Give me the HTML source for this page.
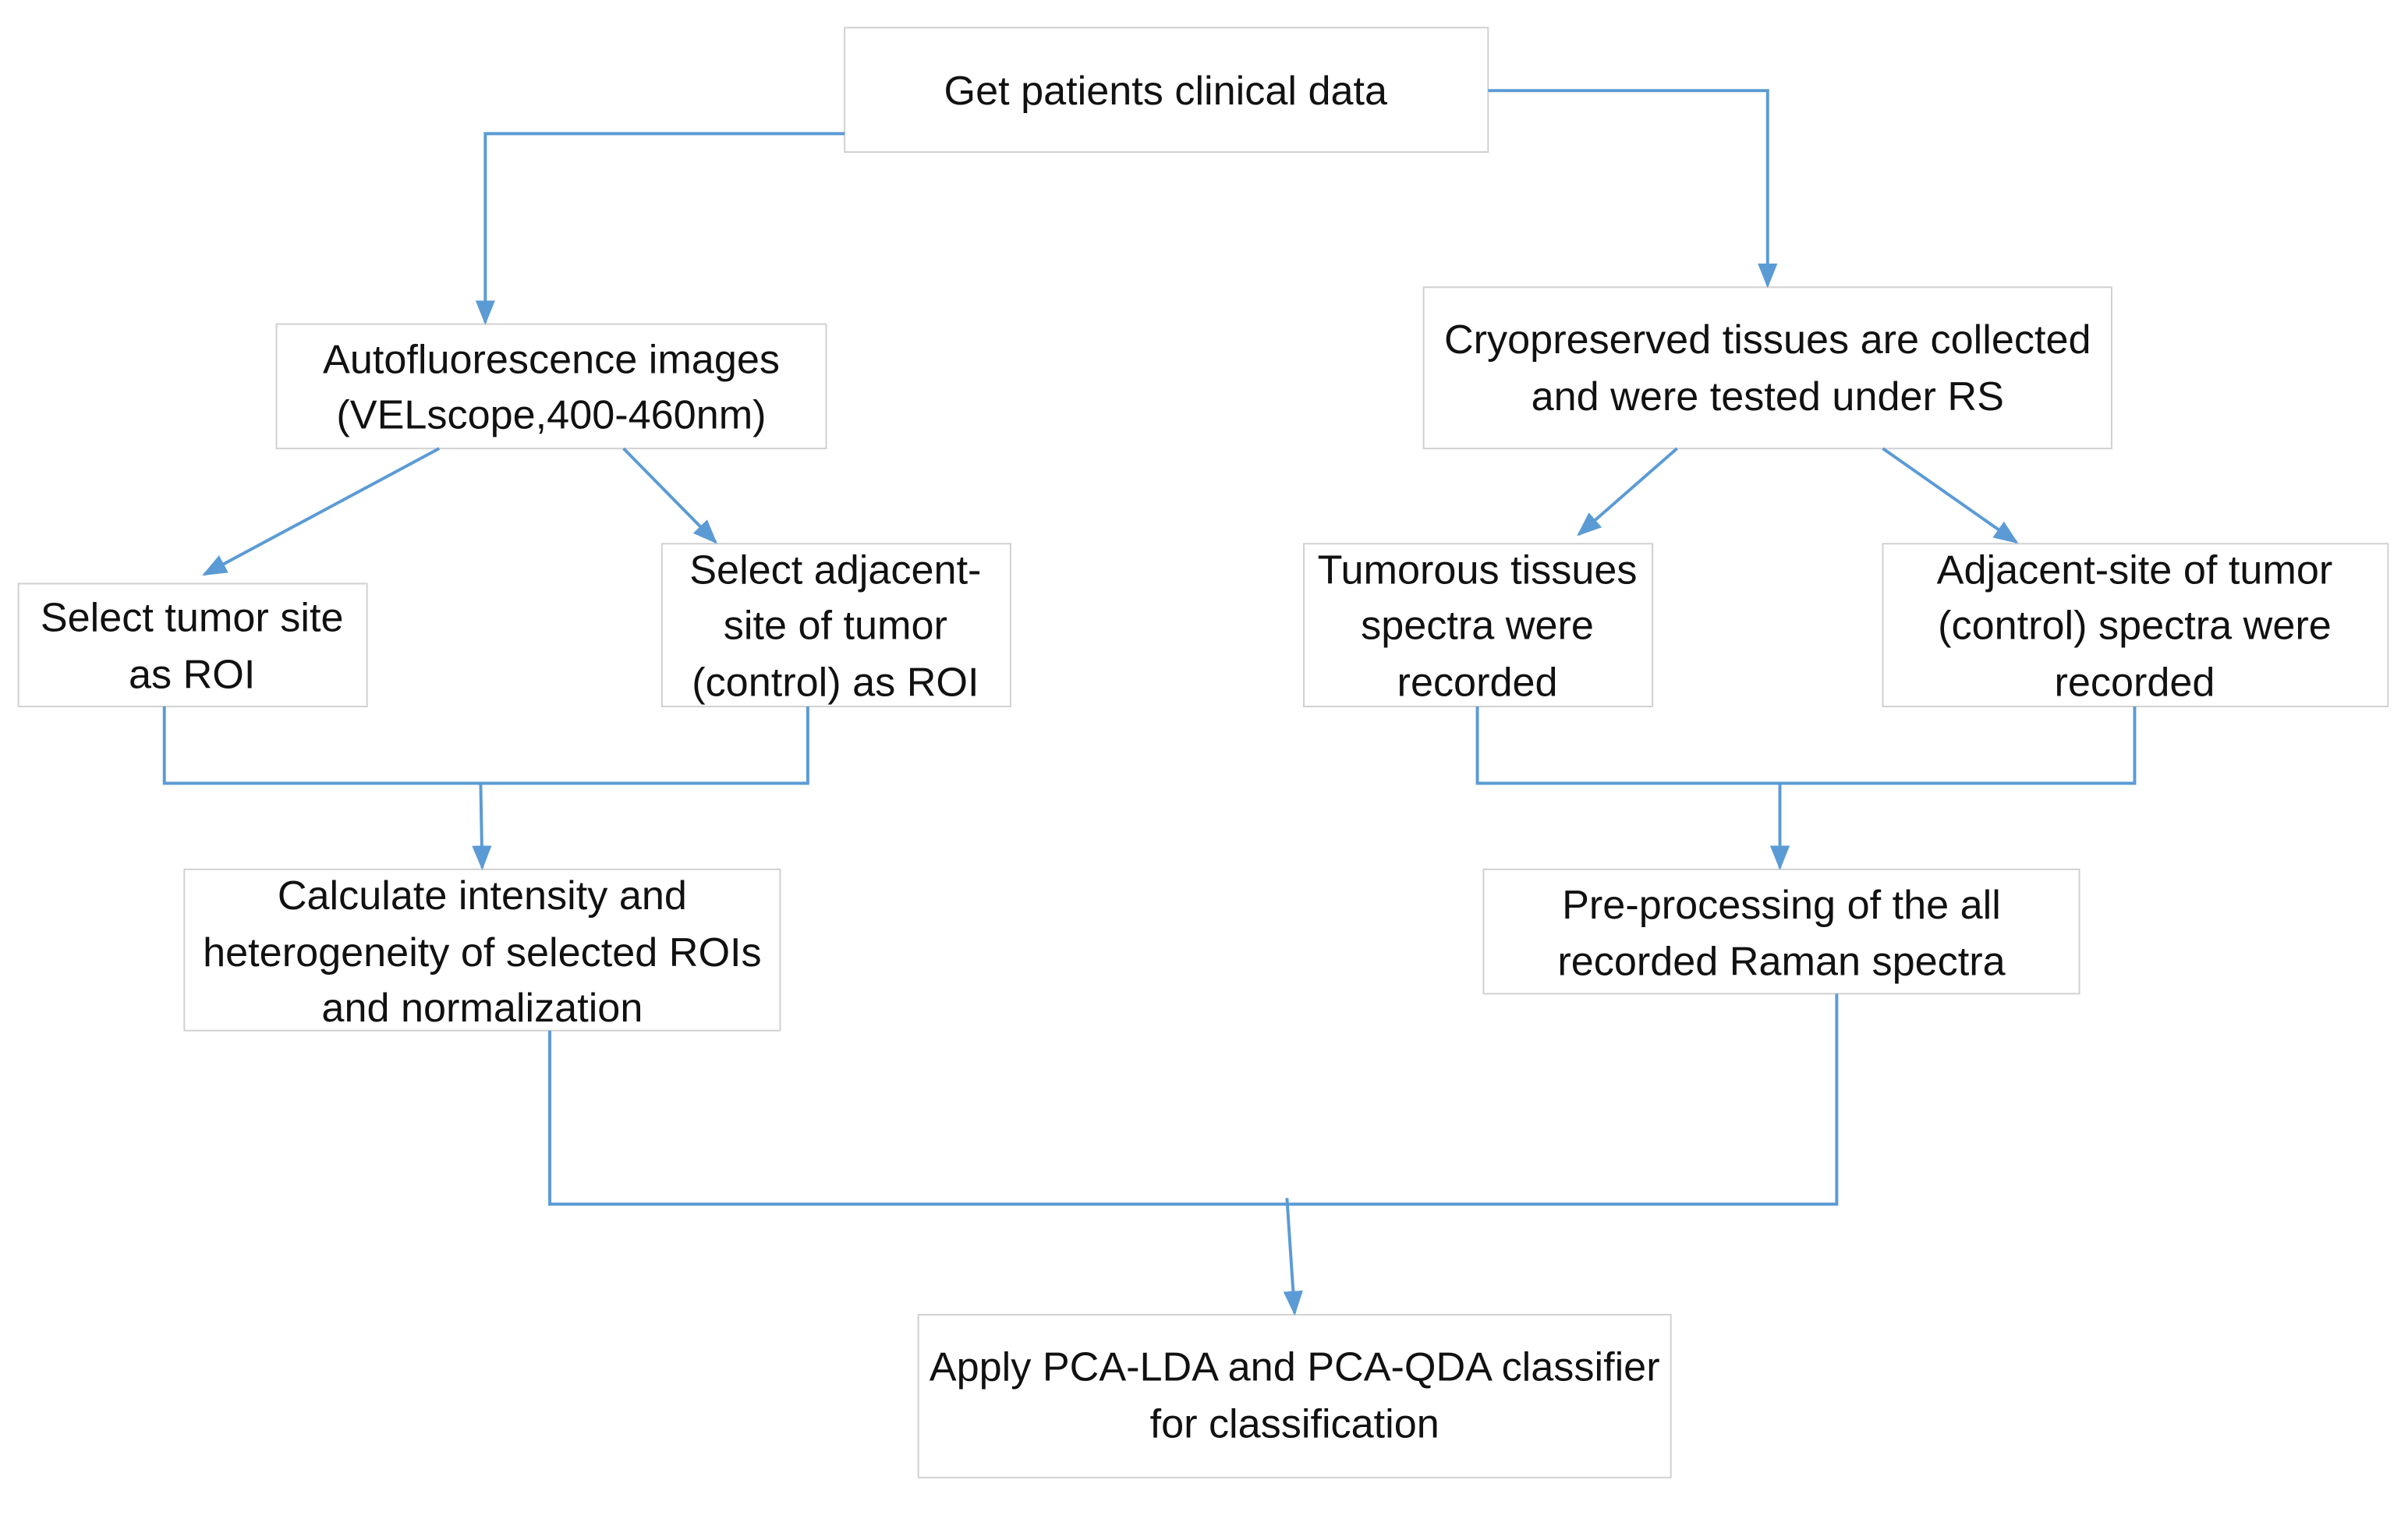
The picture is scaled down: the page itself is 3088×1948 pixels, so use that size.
<!DOCTYPE html>
<html><head><meta charset="utf-8"><style>
html,body{margin:0;padding:0;background:#fff;}
svg{display:block;}
text{font-family:"Liberation Sans",sans-serif;font-size:26.5px;fill:#111;text-anchor:middle;}
rect{fill:#fff;stroke:#d0d0d0;stroke-width:1;}
.l{fill:none;stroke:#5b9bd5;stroke-width:2;}
</style></head><body>
<svg width="3088" height="1948" viewBox="0 0 1568 989" preserveAspectRatio="none" xmlns="http://www.w3.org/2000/svg">
<defs>
<marker id="b" viewBox="0 0 10 10" refX="9" refY="5" markerWidth="16" markerHeight="16" markerUnits="userSpaceOnUse" orient="auto">
<path d="M0,1 L10,5 L0,9 z" fill="#5b9bd5"/></marker>
</defs>
<rect x="550" y="18" width="419" height="81"/>
<rect x="180" y="211" width="358" height="81"/>
<rect x="927" y="187" width="448" height="105"/>
<rect x="12" y="380" width="227" height="80"/>
<rect x="431" y="354" width="227" height="106"/>
<rect x="849" y="354" width="227" height="106"/>
<rect x="1226" y="354" width="329" height="106"/>
<rect x="120" y="566" width="388" height="105"/>
<rect x="966" y="566" width="388" height="81"/>
<rect x="598" y="856" width="490" height="106"/>

<polyline class="l" points="550,87 316,87 316,210" marker-end="url(#b)"/>
<polyline class="l" points="969,59 1151,59 1151,186" marker-end="url(#b)"/>
<line class="l" x1="286" y1="292" x2="133" y2="374" marker-end="url(#b)"/>
<line class="l" x1="406" y1="292" x2="466" y2="353" marker-end="url(#b)"/>
<line class="l" x1="1092" y1="292" x2="1028" y2="348" marker-end="url(#b)"/>
<line class="l" x1="1226" y1="292" x2="1313" y2="353" marker-end="url(#b)"/>
<polyline class="l" points="107,460 107,510 526,510 526,460"/>
<line class="l" x1="313" y1="510" x2="314" y2="565" marker-end="url(#b)"/>
<polyline class="l" points="962,460 962,510 1390,510 1390,460"/>
<line class="l" x1="1159" y1="510" x2="1159" y2="565" marker-end="url(#b)"/>
<polyline class="l" points="358,671 358,784 1196,784 1196,647"/>
<line class="l" x1="838" y1="780" x2="843" y2="855" marker-end="url(#b)"/>

<text x="759" y="68">Get patients clinical data</text>
<text x="359" y="243">Autofluorescence images</text>
<text x="359" y="279">(VELscope,400-460nm)</text>
<text x="1151" y="230">Cryopreserved tissues are collected</text>
<text x="1151" y="267">and were tested under RS</text>
<text x="125" y="411">Select tumor site</text>
<text x="125" y="448">as ROI</text>
<text x="544" y="380">Select adjacent-</text>
<text x="544" y="416">site of  tumor</text>
<text x="544" y="453">(control) as ROI</text>
<text x="962" y="380">Tumorous tissues</text>
<text x="962" y="416">spectra were</text>
<text x="962" y="453">recorded</text>
<text x="1390" y="380">Adjacent-site of  tumor</text>
<text x="1390" y="416">(control) spectra were</text>
<text x="1390" y="453">recorded</text>
<text x="314" y="592">Calculate intensity and</text>
<text x="314" y="629">heterogeneity of selected ROIs</text>
<text x="314" y="665">and normalization</text>
<text x="1160" y="598">Pre-processing of the all</text>
<text x="1160" y="635">recorded Raman spectra</text>
<text x="843" y="899">Apply PCA-LDA and PCA-QDA classifier</text>
<text x="843" y="936">for classification</text>
</svg>
</body></html>
